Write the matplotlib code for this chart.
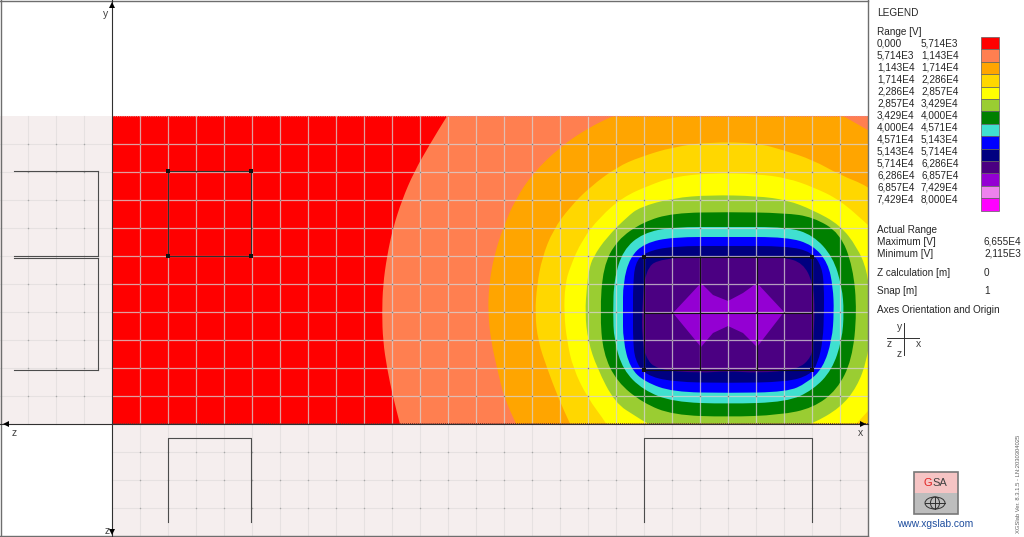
"""Voltage contour map of two earthing grids, with side views and the legend panel."""
import matplotlib

matplotlib.use("Agg")
import matplotlib.pyplot as plt  # noqa: E402
from matplotlib.patches import Ellipse, PathPatch, Rectangle  # noqa: E402
from matplotlib.path import Path  # noqa: E402

plt.rcParams["font.family"] = ["Liberation Sans", "DejaVu Sans"]

# legend table
range_low = ["0,000", "5,714E3", "1,143E4", "1,714E4", "2,286E4", "2,857E4", "3,429E4",
             "4,000E4", "4,571E4", "5,143E4", "5,714E4", "6,286E4", "6,857E4", "7,429E4"]
range_high = ["5,714E3", "1,143E4", "1,714E4", "2,286E4", "2,857E4", "3,429E4", "4,000E4",
              "4,571E4", "5,143E4", "5,714E4", "6,286E4", "6,857E4", "7,429E4", "8,000E4"]
band_colors = ["#ff0000", "#ff7f50", "#ffa500", "#ffd700", "#ffff00", "#9acd32", "#008000",
               "#40e0d0", "#0000ff", "#000080", "#4b0082", "#9400d3", "#ee82ee", "#ff00ff"]

# contour lines, in image pixels
line_5714 = [(403, 436), (400, 424), (393, 397), (387, 368), (383, 341), (382, 313), (383, 285),
             (387, 256), (393, 228), (402, 200), (414, 172), (430, 144), (447, 116), (458, 100)]
line_11430 = [(522, 436), (516, 424), (504, 397), (497, 368), (491, 341), (488, 313), (489, 285),
              (494, 256), (503, 228), (515, 200), (533, 173), (560, 147), (588, 128), (613, 116),
              (640, 104)]
line_17140 = [(576, 436), (570, 424), (558, 397), (547, 368), (538, 341), (535, 313), (537, 285),
              (542, 258), (553, 230), (570, 207), (590, 187), (617, 167), (640, 157), (673, 147),
              (710, 142), (757, 143), (783, 150), (813, 160), (840, 175), (868, 186), (890, 205)]
line_22860 = [(614, 436), (607, 424), (587, 397), (573, 368), (567, 341), (564, 313), (565, 285),
              (570, 267), (582, 240), (600, 217), (623, 197), (650, 185), (673, 177), (710, 173),
              (757, 174), (787, 178), (813, 187), (840, 200), (868, 225), (885, 240)]
line_28570 = [(585, 313), (587, 285), (589, 270), (593, 257), (607, 237), (627, 217), (640, 207),
              (673, 198), (710, 195), (757, 196), (787, 200), (813, 210), (840, 225), (857, 247),
              (867, 270), (870, 300), (870, 335), (867, 360), (857, 387), (840, 408), (812, 424),
              (780, 436), (680, 436), (648, 424), (637, 417), (615, 403), (597, 368), (588, 341)]
line_34290 = [(600, 313), (603, 267), (617, 240), (643, 222), (673, 213), (728, 212), (785, 213),
              (813, 217), (840, 233), (853, 267), (857, 312), (852, 360), (837, 390), (813, 408),
              (780, 415), (728, 417), (673, 415), (643, 403), (617, 382), (603, 353)]
line_40000 = [(613, 312), (614, 280), (623, 250), (643, 233), (673, 227), (728, 227), (787, 227),
              (813, 235), (833, 257), (842, 287), (844, 312), (842, 340), (832, 370), (813, 390),
              (787, 402), (728, 404), (673, 402), (643, 390), (623, 370), (614, 340)]
line_45710 = [(623, 312), (623, 283), (630, 257), (645, 243), (673, 237), (728, 237), (787, 237),
              (813, 245), (828, 263), (833, 287), (834, 312), (832, 340), (823, 368), (807, 383),
              (787, 392), (728, 393), (673, 392), (645, 382), (630, 368), (623, 340)]
line_51430 = [(633, 312), (633, 287), (635, 263), (645, 252), (673, 246), (728, 246), (787, 246),
              (812, 252), (822, 267), (824, 287), (824, 312), (823, 340), (818, 363), (810, 375),
              (787, 382), (728, 383), (673, 382), (645, 375), (635, 360), (633, 340)]
line_57140 = [(642, 312), (645, 270), (660, 258), (728, 256), (783, 257), (803, 263), (813, 283),
              (815, 312), (813, 340), (812, 357), (797, 370), (757, 373), (728, 371), (700, 373),
              (657, 370), (645, 357), (642, 333)]
line_62860 = [(673, 313), (701, 283), (713, 295), (728, 301), (743, 293), (757, 283), (784, 312),
              (757, 347), (743, 333), (728, 326), (713, 333), (701, 347)]

# map and grid positions in image pixels
map_left, map_right, map_top, map_bottom = 112, 868, 116, 424
grid_x = [140, 168, 196, 224, 252, 280, 308, 336, 364, 392, 420, 448, 476, 504, 532, 560, 588,
          616, 644, 672, 700, 728, 756, 784, 812, 840]
grid_y = [144, 172, 200, 228, 256, 284, 312, 340, 368, 396]
side_x = [28, 56, 84]
side_y = [452, 480, 508]

# conductors, plan and side views
small_grid_x = [168, 251]
small_grid_y = [171, 256]
large_grid_x = [644, 700, 757, 812]
large_grid_y = [257, 313, 370]
side_left_y = [171, 256, 258, 370]
side_bottom_y = [438, 522]

# right hand notes: label, value, y
notes = [("Maximum [V]", "6,655E4", 242), ("Minimum [V]", "2,115E3", 254),
         ("Z calculation [m]", "0", 273), ("Snap [m]", "1", 291)]


def smooth_path(points, closing=None):
    """Build a smooth path through the points, closed with straight corners if given."""
    verts, codes = [], []
    if closing is None:
        first = ((points[-1][0] + points[0][0]) / 2, (points[-1][1] + points[0][1]) / 2)
        verts.append(first)
        codes.append(Path.MOVETO)
        for k, point in enumerate(points):
            after = points[(k + 1) % len(points)]
            verts += [point, ((point[0] + after[0]) / 2, (point[1] + after[1]) / 2)]
            codes += [Path.CURVE3, Path.CURVE3]
    else:
        verts.append(points[0])
        codes.append(Path.MOVETO)
        for k in range(1, len(points) - 1):
            after = points[k + 1]
            verts += [points[k], ((points[k][0] + after[0]) / 2, (points[k][1] + after[1]) / 2)]
            codes += [Path.CURVE3, Path.CURVE3]
        verts.append(points[-1])
        codes.append(Path.LINETO)
        verts += closing
        codes += [Path.LINETO] * len(closing)
    verts.append(verts[0])
    codes.append(Path.CLOSEPOLY)
    return Path(verts, codes)


fig = plt.figure(figsize=(10.24, 5.37), dpi=100)
ax = fig.add_axes([0, 0, 1, 1])
ax.set_xlim(0, 1024)
ax.set_ylim(537, 0)
ax.axis("off")

# side view panels
side_color = "#f5eeee"
side_line = "#e6e1e1"
ax.add_patch(Rectangle((0, map_top), map_left, map_bottom - map_top, fc=side_color, ec="none"))
ax.add_patch(Rectangle((map_left, map_bottom), map_right - map_left, 537 - map_bottom,
                       fc=side_color, ec="none"))
for x in side_x:
    ax.plot([x, x], [map_top, map_bottom], color=side_line, lw=0.8)
for y in grid_y:
    ax.plot([0, map_left], [y, y], color=side_line, lw=0.8)
for x in grid_x:
    ax.plot([x, x], [map_bottom, 537], color=side_line, lw=0.8)
for y in side_y:
    ax.plot([map_left, map_right], [y, y], color=side_line, lw=0.8)

# contour bands, painted from the lowest upward
clip = Rectangle((map_left, map_top), map_right - map_left, map_bottom - map_top,
                 transform=ax.transData)
ax.add_patch(Rectangle((map_left, map_top), map_right - map_left, map_bottom - map_top,
                       fc=band_colors[0], ec="none"))
bands = [
    (line_5714, band_colors[1], [(900, 100), (900, 440)]),
    (line_11430, band_colors[2], [(815, 100), (880, 137), (900, 440)]),
    (line_17140, band_colors[3], [(900, 440)]),
    (line_22860, band_colors[4], [(880, 398), (845, 436)]),
    (line_28570, band_colors[5], None),
    (line_34290, band_colors[6], None),
    (line_40000, band_colors[7], None),
    (line_45710, band_colors[8], None),
    (line_51430, band_colors[9], None),
    (line_57140, band_colors[10], None),
]
for points, color, closing in bands:
    patch = PathPatch(smooth_path(points, closing), fc=color, ec="none")
    ax.add_patch(patch)
    patch.set_clip_path(clip)
ax.fill([p[0] for p in line_62860], [p[1] for p in line_62860], color=band_colors[11], lw=0)

# grid over the map
for x in grid_x:
    ax.plot([x, x], [map_top, map_bottom], color="#d8d4d4", lw=0.9, alpha=0.75)
for y in grid_y:
    ax.plot([map_left, map_right], [y, y], color="#d8d4d4", lw=0.9, alpha=0.75)
ax.scatter([x for x in grid_x for _ in grid_y], [y for _ in grid_x for y in grid_y],
           s=1.2, color="#808080", linewidths=0, zorder=3)
ax.scatter([x for x in side_x for _ in grid_y], [y for _ in side_x for y in grid_y],
           s=1.2, color="#a8a8a8", linewidths=0, zorder=3)
ax.scatter([x for x in grid_x for _ in side_y], [y for _ in grid_x for y in side_y],
           s=1.2, color="#a8a8a8", linewidths=0, zorder=3)

# dotted map edges
ax.plot([map_left, map_right], [map_top, map_top], color="#f08080", lw=0.8, ls=(0, (1, 1)))
ax.plot([map_left, map_right], [map_bottom - 1, map_bottom - 1], color="#803030", lw=0.7,
        ls=(0, (1, 1)), zorder=4)

# small grid in plan
ax.add_patch(Rectangle((small_grid_x[0], small_grid_y[0]), small_grid_x[1] - small_grid_x[0],
                       small_grid_y[1] - small_grid_y[0], fc="none", ec="#303030", lw=0.8, zorder=5))
ax.scatter([small_grid_x[i] for i in (0, 1, 0, 1)], [small_grid_y[i] for i in (0, 0, 1, 1)],
           s=7, color="#101010", marker="s", linewidths=0, zorder=6)

# large grid in plan
for x in large_grid_x:
    ax.plot([x, x], [large_grid_y[0], large_grid_y[-1]], color="#101010", lw=0.8, zorder=5)
for y in large_grid_y:
    ax.plot([large_grid_x[0], large_grid_x[-1]], [y, y], color="#101010", lw=0.8, zorder=5)
ax.scatter([large_grid_x[i] for i in (0, 3, 0, 3)], [large_grid_y[i] for i in (0, 0, 2, 2)],
           s=7, color="#101010", marker="s", linewidths=0, zorder=6)

# conductors in the left side view
conductor = {"color": "#4c4c4c", "lw": 0.8, "zorder": 5}
for y in side_left_y:
    ax.plot([14, 98], [y, y], **conductor)
ax.plot([98, 98], [side_left_y[0], side_left_y[1]], **conductor)
ax.plot([98, 98], [side_left_y[2], side_left_y[3]], **conductor)

# conductors in the bottom side view
for left, right in [(small_grid_x[0], small_grid_x[1]), (large_grid_x[0], large_grid_x[3])]:
    ax.plot([left, left, right, right],
            [side_bottom_y[1], side_bottom_y[0], side_bottom_y[0], side_bottom_y[1]], **conductor)

# frame and axes
frame = {"color": "#6e6e6e", "lw": 1.0, "zorder": 6}
ax.plot([0.5, 0.5], [0, 537], **frame)
ax.plot([0, map_right], [0.5, 0.5], **frame)
ax.plot([map_right, map_right], [0, 537], **frame)
ax.plot([0, map_right], [536, 536], **frame)
axis_line = {"color": "#303030", "lw": 0.8, "zorder": 7}
ax.plot([map_left, map_left], [0, 537], **axis_line)
ax.plot([0, map_right], [map_bottom, map_bottom], **axis_line)
for x, y, marker in [(map_right - 5, map_bottom, ">"), (6, map_bottom, "<"),
                     (map_left, 5, "^"), (map_left, 532, "v")]:
    ax.plot([x], [y], marker=marker, ms=5, color="black", mew=0, zorder=8)
axis_text = {"fontsize": 7.5, "color": "#404040", "ha": "center", "va": "center"}
ax.text(106, 14, "y", **axis_text)
ax.text(860, 433, "x", **axis_text)
ax.text(14, 433, "z", **axis_text)
ax.text(107, 531, "z", **axis_text)

# legend
text_style = {"fontsize": 7.2, "color": "#262626", "va": "center"}
ax.text(877, 13, "LEGEND", **text_style)
ax.text(877, 32, "Range [V]", **text_style)
row_h = 12.4
for k, (low, high, color) in enumerate(zip(range_low, range_high, band_colors)):
    y = 44 + k * 12.0
    ax.text(877, y, low, **text_style)
    ax.text(921, y, high, **text_style)
    ax.add_patch(Rectangle((981, 37 + k * row_h), 18, row_h, fc=color, ec="#606060", lw=0.5))

# actual range and settings
ax.text(877, 230, "Actual Range", **text_style)
for label, value, y in notes:
    ax.text(877, y, label, **text_style)
    ax.text(984, y, value, **text_style)
ax.text(877, 310, "Axes Orientation and Origin", **text_style)

# small orientation cross
ax.plot([887, 919], [338, 338], color="#303030", lw=0.7)
ax.plot([904, 904], [323, 355], color="#303030", lw=0.7)
ax.text(900, 327, "y", **axis_text)
ax.text(889, 344, "z", **axis_text)
ax.text(919, 344, "x", **axis_text)
ax.text(899, 354, "z", **axis_text)

# logo
ax.add_patch(Rectangle((914, 472), 44, 21, fc="#f6c4c4", ec="none"))
ax.add_patch(Rectangle((914, 493), 44, 21, fc="#bdbdbd", ec="none"))
ax.add_patch(Rectangle((914, 472), 44, 42, fc="none", ec="#787878", lw=1.2))
ax.text(924, 483, "G", fontsize=8, color="#e02020", ha="left", va="center")
ax.text(932.6, 483, "SA", fontsize=8, color="#404040", ha="left", va="center")
ax.add_patch(Ellipse((935, 503), 20, 12, fc="none", ec="#303030", lw=0.7))
ax.add_patch(Ellipse((935, 503), 9, 12, fc="none", ec="#303030", lw=0.7))
ax.plot([925, 945], [503, 503], color="#303030", lw=0.7)
ax.plot([935, 935], [497, 509], color="#303030", lw=0.7)
ax.text(935, 524, "www.xgslab.com", fontsize=7.4, color="#1f4e9e", ha="center", va="center")
ax.text(1018, 484, "XGSlab Ver. 8.3.1.5 - LN:2030304025", fontsize=4.2, color="#606060",
        rotation=90, ha="center", va="center")

fig.savefig("out.png", dpi=100)
plt.close(fig)
